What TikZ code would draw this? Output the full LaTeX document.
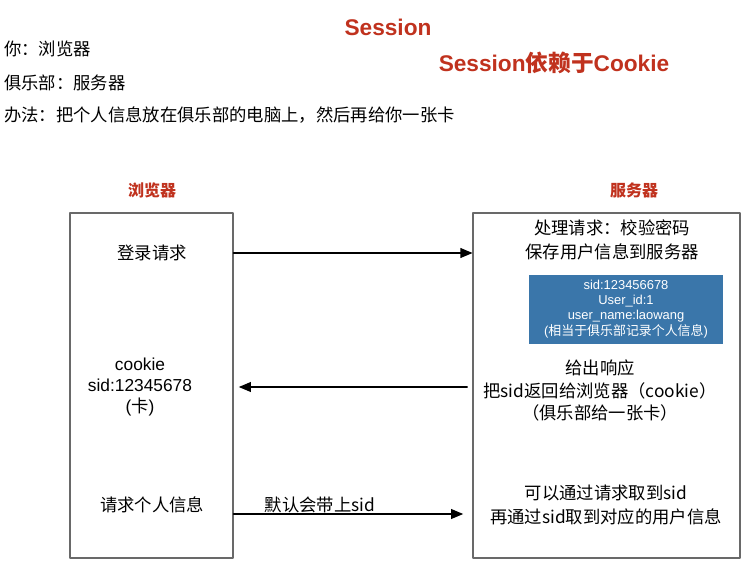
\documentclass[tikz,border=0pt]{standalone}
\usepackage{fontspec}
\setmainfont{Noto Sans CJK SC}
\newfontfamily\lat{Liberation Sans}
\usetikzlibrary{arrows}
\definecolor{titlered}{RGB}{192,50,30}
\definecolor{memoblue}{RGB}{58,118,170}
\definecolor{boxgray}{RGB}{105,105,105}
\tikzset{
  txt/.style={inner sep=0pt,align=center,font=\fontsize{13}{18}\selectfont},
  head/.style={inner sep=0pt,text=titlered,font=\bfseries\fontsize{17}{20}\selectfont},
  side/.style={red,inner sep=0pt,text=titlered,font=\bfseries\fontsize{12}{14}\selectfont},
  party/.style={draw=boxgray,line width=0.8pt,inner sep=0pt,minimum height=258.75pt},
  memo/.style={fill=memoblue,inner sep=0pt,minimum width=145.5pt,minimum height=51.75pt,
    text=white,align=center,font=\lat\fontsize{9.7}{11.4}\selectfont},
  msg/.style={->,line width=1.1pt}
}
\begin{document}
\begin{tikzpicture}[line cap=round,line join=round,>=triangle 45,x=0.75pt,y=-0.75pt]
\useasboundingbox (0,0) rectangle (756,586);
% titles
\node[head] (title) at (388,27) {{\lat Session}};
\node[head] (sub) at (554,63) {{\lat Session}依赖于{\lat Cookie}};
\node[txt,anchor=west] (you) at (4,49) {你：浏览器};
\node[txt,anchor=west] (club) at (4,83) {俱乐部：服务器};
\node[txt,anchor=west] (way) at (4,115) {办法：把个人信息放在俱乐部的电脑上，然后再给你一张卡};
% the two parties
\node[side] (bname) at (152,190) {浏览器};
\node[side] (sname) at (634,190) {服务器};
\node[party,minimum width=122.25pt] (browser) at (151.5,385.5) {};
\node[party,minimum width=200.25pt] (server) at (606.5,385.5) {};
% browser side
\node[txt] (login) at (152,253) {登录请求};
\node[txt] (card) at (140,387) {{\lat cookie}\\[-2pt]{\lat sid:12345678}\\[-2pt]{\lat (}卡{\lat )}};
\node[txt] (ask) at (152,505) {请求个人信息};
% server side
\node[txt] (check) at (612,240) {处理请求：校验密码\\保存用户信息到服务器};
\node[memo] (store) at (626,309) {sid:123456678\\User\_id:1\\user\_name:laowang\\{\lat (}{\rmfamily 相当于俱乐部记录个人信息}{\lat )}};
\node[txt] (reply) at (600,390.5) {给出响应\\[-1pt]把sid返回给浏览器（cookie）\\[-1pt]（俱乐部给一张卡）};
\node[txt] (lookup) at (606,504.5) {可以通过请求取到sid\\再通过sid取到对应的用户信息};
% messages
\draw[msg] (browser.east |- login) -- (server.west |- login);
\draw[msg] ([xshift=-4]server.west |- card.center) -- ([xshift=4]browser.east |- card.center);
\draw[msg] (browser.east |- 0,514) coordinate (out) -- ([xshift=-7]server.west |- out);
\node[txt,anchor=south] (carry) at (320,513) {默认会带上sid};
\end{tikzpicture}
\end{document}
